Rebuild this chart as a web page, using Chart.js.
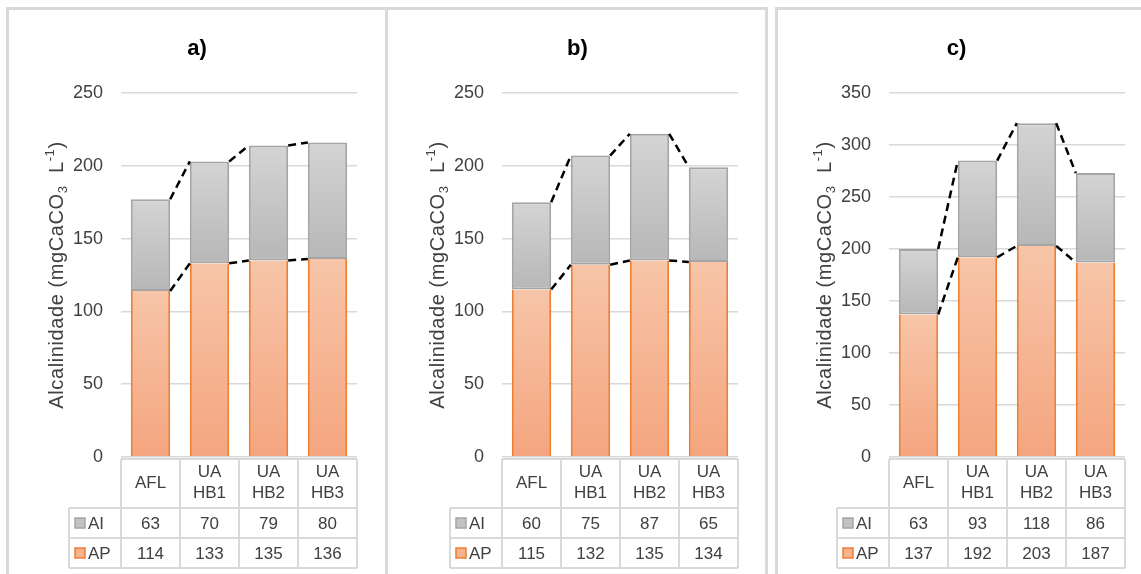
<!DOCTYPE html>
<html>
<head>
<meta charset="utf-8">
<script src="https://cdn.jsdelivr.net/npm/chart.js@4.4.1/dist/chart.umd.min.js"></script>
<style>
  html,body{margin:0;padding:0;background:#fff;}
  body{width:1141px;height:574px;overflow:hidden;position:relative;font-family:"Liberation Sans",Arial,sans-serif;}
  .frame{position:absolute;border:3px solid #d9d9d9;box-sizing:border-box;background:#fff;}
  canvas{position:absolute;}
</style>
</head>
<body>
<div class="frame" style="left:6px;top:7px;width:382px;height:620px;"></div>
<div class="frame" style="left:385px;top:7px;width:383px;height:620px;"></div>
<div class="frame" style="left:775px;top:7px;width:390px;height:620px;"></div>
<canvas id="chartA" width="376" height="564" style="left:9px;top:10px;"></canvas>
<canvas id="chartB" width="377" height="564" style="left:388px;top:10px;"></canvas>
<canvas id="chartC" width="363" height="564" style="left:778px;top:10px;"></canvas>
<script>
// ---------------- DATA ----------------
const categories = [['AFL'], ['UA', 'HB1'], ['UA', 'HB2'], ['UA', 'HB3']];
const panelTitles = ['a)', 'b)', 'c)'];
const seriesAI = 'AI';
const seriesAP = 'AP';

const apA = [114, 133, 135, 136];
const aiA = [63, 70, 79, 80];

const apB = [115, 132, 135, 134];
const aiB = [60, 75, 87, 65];

const apC = [137, 192, 203, 187];
const aiC = [63, 93, 118, 86];

const yMaxA = 250;
const yMaxB = 250;
const yMaxC = 350;
const yStep = 50;

const yTitleParts = [
  { text: 'Alcalinidade (mgCaCO', kind: 'normal' },
  { text: '3', kind: 'sub' },
  { text: '  L', kind: 'normal' },
  { text: '-1', kind: 'sup' },
  { text: ')', kind: 'normal' }
];

// ---------------- STYLE ----------------
const FONT = '"Liberation Sans", Arial, sans-serif';
const TEXT = '#404040';
const GRID = '#d9d9d9';
const AP_BORDER = '#ed7d31';
const AI_BORDER = '#a5a5a5';
const AP_TOP = '#f7c5a8', AP_BOT = '#f4a57f';
const AI_TOP = '#d4d4d4', AI_BOT = '#b7b7b7';

function gradFor(ctx, lowArr, highArr, cTop, cBot) {
  const chart = ctx.chart;
  const y = chart.scales && chart.scales.y;
  if (!chart.chartArea || !y || ctx.type !== 'data') return cBot;
  const i = ctx.dataIndex;
  const yt = y.getPixelForValue(highArr[i]);
  const yb = y.getPixelForValue(lowArr[i]);
  if (!isFinite(yt) || !isFinite(yb) || yt === yb) return cBot;
  const g = chart.ctx.createLinearGradient(0, yt, 0, yb);
  g.addColorStop(0, cTop);
  g.addColorStop(1, cBot);
  return g;
}

const panelPlugin = {
  id: 'panelExtras',
  afterDatasetsDraw(chart) {
    const c = chart.ctx;
    c.save();
    c.strokeStyle = '#000';
    c.lineWidth = 2.5;
    c.setLineDash([8, 5]);
    for (let d = 0; d < 2; d++) {
      const meta = chart.getDatasetMeta(d);
      for (let i = 0; i < meta.data.length - 1; i++) {
        const a = meta.data[i], b = meta.data[i + 1];
        c.beginPath();
        c.moveTo(a.x + a.width / 2, a.y);
        c.lineTo(b.x - b.width / 2, b.y);
        c.stroke();
      }
    }
    c.restore();
  },
  afterDraw(chart) {
    const c = chart.ctx;
    const ca = chart.chartArea;
    const xs = chart.scales.x;
    const cfg = chart.options.plugins.panelExtras;
    const ap = chart.data.datasets[0].data;
    const ai = chart.data.datasets[1].data;
    const n = chart.data.labels.length;
    const cw = (ca.right - ca.left) / n;

    // panel title
    c.save();
    c.fillStyle = '#000';
    c.font = 'bold 22px ' + FONT;
    c.textAlign = 'center';
    c.textBaseline = 'middle';
    c.fillText(cfg.title, chart.width / 2 + cfg.titleDx, 39);
    c.restore();

    // y axis title with sub/superscript
    c.save();
    const cx = ca.left - 64, cy = (ca.top + ca.bottom) / 2;
    c.translate(cx, cy);
    c.rotate(-Math.PI / 2);
    c.fillStyle = TEXT;
    c.textBaseline = 'middle';
    c.textAlign = 'left';
    try { c.letterSpacing = '0.6px'; } catch (e) {}
    const fnt = k => (k === 'normal' ? '20px ' : '13px ') + FONT;
    let total = 0;
    yTitleParts.forEach(p => { c.font = fnt(p.kind); total += c.measureText(p.text).width; });
    let px = -total / 2;
    yTitleParts.forEach(p => {
      c.font = fnt(p.kind);
      const dy = p.kind === 'sub' ? 6 : (p.kind === 'sup' ? -7 : 0);
      c.fillText(p.text, px, dy);
      px += c.measureText(p.text).width;
    });
    c.restore();

    // data table
    const top = ca.bottom + 2;
    const hdrB = top + 49;
    const r1B = hdrB + 30;
    const r2B = r1B + 30;
    const labL = ca.left - 52;
    c.save();
    c.strokeStyle = GRID;
    c.lineWidth = 2;
    c.beginPath();
    c.moveTo(ca.left, top); c.lineTo(ca.right, top);
    c.moveTo(labL, hdrB); c.lineTo(ca.right, hdrB);
    c.moveTo(labL, r1B); c.lineTo(ca.right, r1B);
    c.moveTo(labL, r2B); c.lineTo(ca.right, r2B);
    c.moveTo(labL, hdrB); c.lineTo(labL, r2B);
    for (let i = 0; i <= n; i++) {
      const x = ca.left + i * cw;
      c.moveTo(x, top); c.lineTo(x, r2B);
    }
    c.stroke();

    c.fillStyle = TEXT;
    c.font = '17px ' + FONT;
    c.textAlign = 'center';
    c.textBaseline = 'middle';
    for (let i = 0; i < n; i++) {
      const xc = xs.getPixelForValue(i);
      const lab = chart.data.labels[i];
      const hc = (top + hdrB) / 2;
      if (lab.length === 1) {
        c.fillText(lab[0], xc, hc);
      } else {
        c.fillText(lab[0], xc, hc - 11);
        c.fillText(lab[1], xc, hc + 10);
      }
      c.fillText(String(ai[i]), xc, (hdrB + r1B) / 2 + 1);
      c.fillText(String(ap[i]), xc, (r1B + r2B) / 2 + 1);
    }
    const keys = [
      { name: seriesAI, y: (hdrB + r1B) / 2, fill: '#c3c3c3', stroke: AI_BORDER },
      { name: seriesAP, y: (r1B + r2B) / 2, fill: '#f5b38f', stroke: AP_BORDER }
    ];
    keys.forEach(k => {
      c.fillStyle = k.fill;
      c.strokeStyle = k.stroke;
      c.lineWidth = 1.5;
      c.fillRect(labL + 6, k.y - 5, 10, 10);
      c.strokeRect(labL + 6, k.y - 5, 10, 10);
      c.fillStyle = TEXT;
      c.textAlign = 'left';
      c.fillText(k.name, labL + 19, k.y + 1);
    });
    c.restore();
  }
};

function makeChart(id, title, ap, ai, yMax, yAxisWidth, padRight, titleDx) {
  const totals = ap.map((v, i) => v + ai[i]);
  const zeros = ap.map(() => 0);
  return new Chart(document.getElementById(id), {
    type: 'bar',
    data: {
      labels: categories,
      datasets: [
        {
          label: seriesAP,
          data: ap,
          backgroundColor: ctx => gradFor(ctx, zeros, ap, AP_TOP, AP_BOT),
          borderColor: AP_BORDER,
          borderWidth: { left: 2, right: 2, top: 0, bottom: 0 },
          borderSkipped: false,
          barPercentage: 0.667,
          categoryPercentage: 1.0
        },
        {
          label: seriesAI,
          data: ai,
          backgroundColor: ctx => gradFor(ctx, ap, totals, AI_TOP, AI_BOT),
          borderColor: AI_BORDER,
          borderWidth: 2,
          borderSkipped: false,
          barPercentage: 0.667,
          categoryPercentage: 1.0
        }
      ]
    },
    options: {
      responsive: false,
      animation: false,
      devicePixelRatio: 1,
      layout: { padding: { top: 83, bottom: 117, left: 0, right: padRight } },
      plugins: {
        legend: { display: false },
        title: { display: false },
        tooltip: { enabled: false },
        panelExtras: { title: title, titleDx: titleDx }
      },
      scales: {
        x: { stacked: true, display: false },
        y: {
          stacked: true,
          min: 0,
          max: yMax,
          ticks: { stepSize: yStep, padding: 18, color: TEXT, font: { size: 18, family: FONT } },
          grid: { color: GRID, lineWidth: 1.5, drawTicks: false },
          border: { display: false },
          afterFit(s) { s.width = yAxisWidth; }
        }
      }
    },
    plugins: [panelPlugin]
  });
}

makeChart('chartA', panelTitles[0], apA, aiA, yMaxA, 112, 28, 0);
makeChart('chartB', panelTitles[1], apB, aiB, yMaxB, 114, 27, 1);
makeChart('chartC', panelTitles[2], apC, aiC, yMaxC, 111, 16, -3);
</script>
</body>
</html>
